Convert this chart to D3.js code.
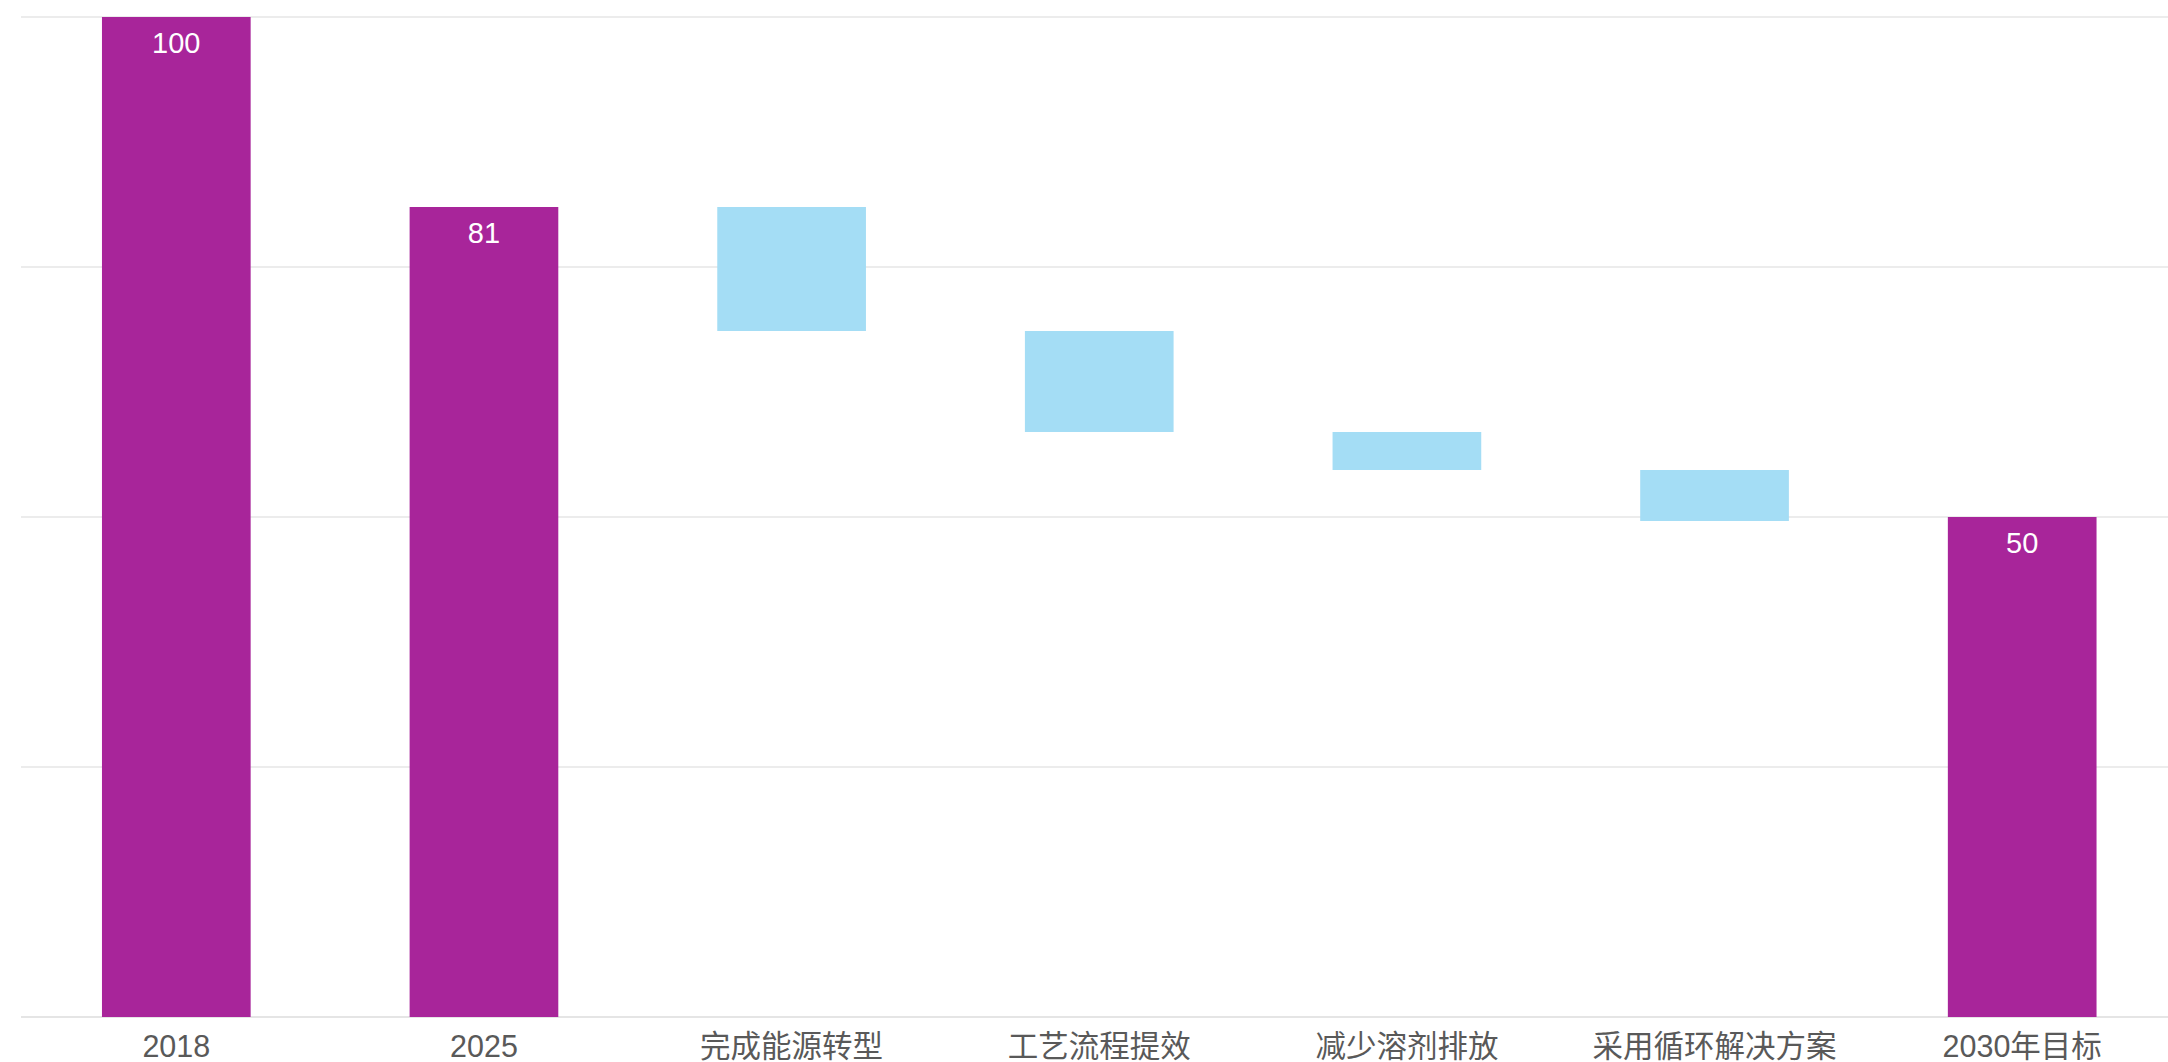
<!DOCTYPE html>
<html>
<head>
<meta charset="utf-8">
<script src="https://cdn.jsdelivr.net/npm/d3@7"></script>
<style>
  html, body { margin: 0; padding: 0; background: #ffffff; }
  svg { display: block; }
</style>
</head>
<body>
<svg id="chart" width="2168" height="1062"></svg>
<script>
// Waterfall: emission index from 2018 baseline to the 2030 target
const categories = ["2018", "2025", "完成能源转型", "工艺流程提效", "减少溶剂排放", "采用循环解决方案", "2030年目标"];
// "total" bars start at zero; "step" bars hang from the running level
const barTypes   = ["total", "total", "step", "step", "step", "step", "total"];
const totals     = [100, 81, null, null, null, null, 50];
const reductions = [null, null, 12.4, 10.1, 3.8, 5.1, null];
const yTicks     = [0, 25, 50, 75, 100];

// Build start/end pairs for every bar
const bars = [];
let level = 0;
categories.forEach((c, i) => {
  if (barTypes[i] === "total") {
    level = totals[i];
    bars.push({ cat: c, type: "total", y0: 0, y1: totals[i], label: totals[i] });
  } else {
    const from = level;
    level = from - reductions[i];
    bars.push({ cat: c, type: "step", y0: level, y1: from, label: null });
  }
});

const svg = d3.select("#chart");
const width = 2168;

const x = d3.scaleBand()
  .domain(categories)
  .range([22.5, 2176])
  .paddingInner(0.5167)
  .paddingOuter(0.2583);

const y = d3.scaleLinear()
  .domain([0, 100])
  .range([1017, 17]);

const gridLeft = 21;

// Horizontal gridlines
svg.append("g")
  .selectAll("line")
  .data(yTicks)
  .join("line")
  .attr("x1", gridLeft)
  .attr("x2", width)
  .attr("y1", d => y(d))
  .attr("y2", d => y(d))
  .attr("stroke", d => d === 0 ? "#dcdcdc" : "#e6e6e6")
  .attr("stroke-width", 1.5);

// Bars
svg.append("g")
  .selectAll("rect")
  .data(bars)
  .join("rect")
  .attr("x", d => x(d.cat))
  .attr("width", x.bandwidth())
  .attr("y", d => y(d.y1))
  .attr("height", d => y(d.y0) - y(d.y1))
  .attr("fill", d => d.type === "total" ? "#A8259A" : "#A4DDF5");

// Value labels inside the total bars
svg.append("g")
  .selectAll("text")
  .data(bars.filter(d => d.label !== null))
  .join("text")
  .attr("x", d => x(d.cat) + x.bandwidth() / 2)
  .attr("y", d => y(d.y1) + 36)
  .attr("text-anchor", "middle")
  .attr("fill", "#ffffff")
  .style("font-family", "'Liberation Sans', Arial, 'Noto Sans CJK SC', sans-serif")
  .style("font-size", "29px")
  .text(d => d.label);

// Category axis
const xAxis = d3.axisBottom(x).tickSize(0).tickPadding(0);
const axisG = svg.append("g")
  .attr("transform", `translate(0, ${y(0)})`)
  .call(xAxis);
axisG.select(".domain").remove();
axisG.selectAll("text")
  .attr("dy", null)
  .attr("y", 40)
  .attr("fill", "#595959")
  .style("font-family", "'Liberation Sans', Arial, 'Noto Sans CJK SC', sans-serif")
  .style("font-size", "30.5px");
</script>
</body>
</html>
